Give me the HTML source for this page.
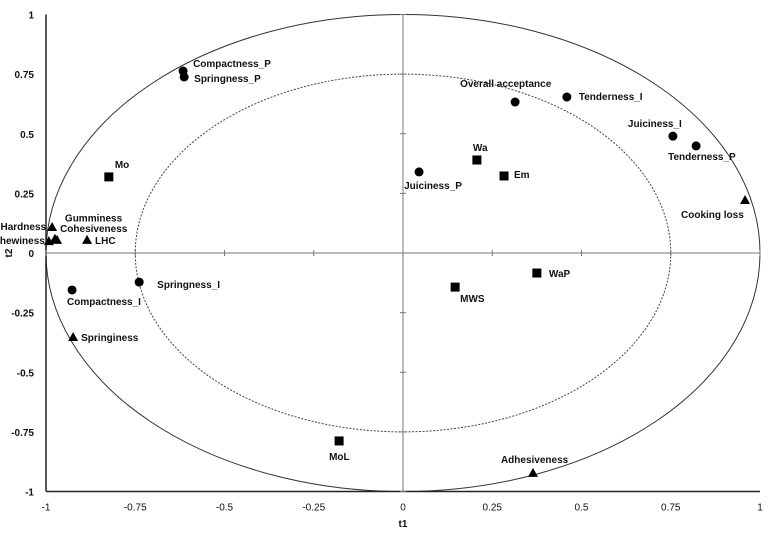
<!DOCTYPE html>
<html><head><meta charset="utf-8"><style>
body{margin:0;background:#fff;}
svg text{font-family:"Liberation Sans",sans-serif;font-size:10px;fill:#111;}
</style></head><body>
<svg id="chart" width="779" height="535" xmlns="http://www.w3.org/2000/svg"></svg>
<script>
const names=["Compactness_P","Springness_P","Overall acceptance","Tenderness_I","Juiciness_I","Tenderness_P","Juiciness_P","Springness_I","Compactness_I","Mo","Wa","Em","WaP","MWS","MoL","Hardness","Gumminess","Chewiness","Cohesiveness","LHC","Springiness","Adhesiveness","Cooking loss"];
const t1Vals=[-0.616,-0.613,0.314,0.459,0.756,0.821,0.045,-0.739,-0.927,-0.824,0.207,0.283,0.375,0.146,-0.179,-0.983,-0.975,-0.992,-0.969,-0.885,-0.924,0.364,0.958];
const t2Vals=[0.763,0.738,0.633,0.654,0.49,0.449,0.34,-0.122,-0.155,0.319,0.39,0.323,-0.084,-0.143,-0.788,0.109,0.06,0.05,0.055,0.055,-0.352,-0.922,0.222];
const shapes=["c","c","c","c","c","c","c","c","c","s","s","s","s","s","s","t","t","t","t","t","t","t","t"];
const xTicks=[-1,-0.75,-0.5,-0.25,0,0.25,0.5,0.75,1];
const yTicks=[-1,-0.75,-0.5,-0.25,0,0.25,0.5,0.75,1];
const labelOff=[[10,-4,"start"],[10,5,"start"],[-55,-15,"start"],[12,3,"start"],[-45,-9,"start"],[-28,14,"start"],[-15,17,"start"],[18,6,"start"],[-5,15,"start"],[6,-9,"start"],[-4,-9,"start"],[10,2,"start"],[12,4,"start"],[5,15,"start"],[-10,19,"start"],[-6,3,"end"],[10,-17,"start"],[-4,3,"end"],[3,-8,"start"],[8,4,"start"],[8,4,"start"],[-32,-10,"start"],[-64,18,"start"]];
const svg=document.getElementById('chart');
const NS="http://www.w3.org/2000/svg";
const X0=403,XS=357,Y0=253,YS=238.5;
const sx=v=>X0+v*XS, sy=v=>Y0-v*YS;
function mk(t,a){const e=document.createElementNS(NS,t);for(const k in a)e.setAttribute(k,a[k]);svg.appendChild(e);return e;}
let e;
e=mk('ellipse',{cx:sx(0),cy:sy(0),rx:XS,ry:YS,fill:'none',stroke:'#333','stroke-width':1});


e=mk('ellipse',{cx:sx(0),cy:sy(0),rx:XS*0.75,ry:YS*0.75,fill:'none',stroke:'#444','stroke-width':1,'stroke-dasharray':'2,1.5'});


e=mk('line',{x1:sx(-1),y1:sy(0),x2:sx(1),y2:sy(0),stroke:'#777','stroke-width':1});


e=mk('line',{x1:sx(0),y1:sy(1),x2:sx(0),y2:sy(-1),stroke:'#777','stroke-width':1});


e=mk('line',{x1:sx(-1),y1:sy(1),x2:sx(-1),y2:sy(-1),stroke:'#222','stroke-width':1.5});


e=mk('line',{x1:sx(-1),y1:sy(-1),x2:sx(1),y2:sy(-1),stroke:'#222','stroke-width':1.5});


xTicks.forEach(v=>{
  e=mk('line',{x1:sx(v),y1:sy(0)-3,x2:sx(v),y2:sy(0)+3,stroke:'#777'});
  
  
  e=mk('text',{x:sx(v),y:sy(-1)+19,'text-anchor':'middle'});e.textContent=String(v);
  
  
});
yTicks.forEach(v=>{
  e=mk('line',{x1:sx(0)-3,y1:sy(v),x2:sx(0)+3,y2:sy(v),stroke:'#777'});
  
  
  e=mk('text',{x:sx(-1)-12,y:sy(v)+4,'text-anchor':'end','font-weight':'bold'});e.textContent=String(v);
  
  
});
e=mk('text',{x:sx(0),y:527,'text-anchor':'middle','font-weight':'bold'});e.textContent='t1';


e=mk('text',{x:12,y:sy(0),'text-anchor':'middle','font-weight':'bold',transform:'rotate(-90 12 '+sy(0)+')'});e.textContent='t2';


names.forEach((n,i)=>{
  const x=sx(t1Vals[i]),y=sy(t2Vals[i]);
  if(shapes[i]=='c') e=mk('circle',{cx:x,cy:y,r:4.5,fill:'#000'});
  else if(shapes[i]=='s') e=mk('rect',{x:x-4.5,y:y-4.5,width:9,height:9,fill:'#000'});
  else e=mk('polygon',{points:`${x},${y-5} ${x-5},${y+4} ${x+5},${y+4}`,fill:'#000'});
  
  
  const o=labelOff[i];
  e=mk('text',{x:x+o[0],y:y+o[1],'text-anchor':o[2],'font-weight':'bold'});e.textContent=n;
  
  
});
</script>
</body></html>
